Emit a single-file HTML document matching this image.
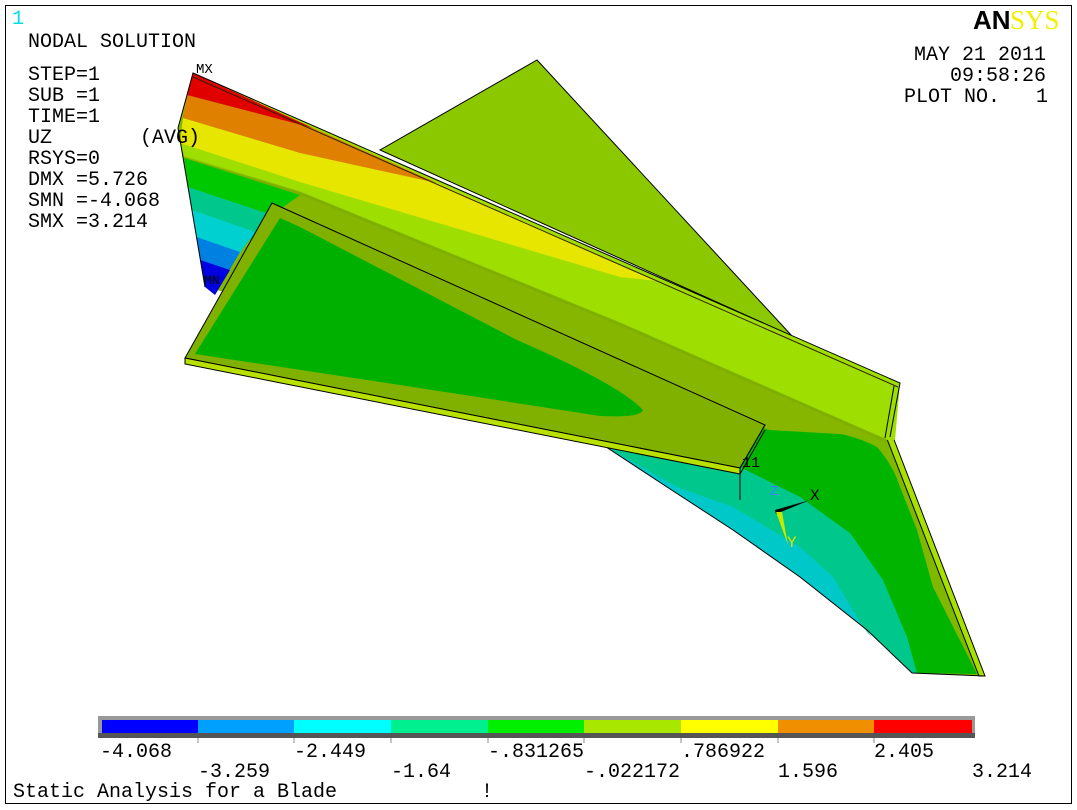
<!DOCTYPE html>
<html><head><meta charset="utf-8"><style>
html,body{margin:0;padding:0;background:#fff;}
svg{display:block;}
text{font-family:"Liberation Mono",monospace;font-size:20px;fill:#000;white-space:pre;}
</style></head><body>
<svg width="1077" height="810" viewBox="0 0 1077 810" xmlns="http://www.w3.org/2000/svg" xml:space="preserve">
<rect x="0" y="0" width="1077" height="810" fill="#fff"/>
<rect x="5.5" y="5.5" width="1066" height="798" fill="none" stroke="#000" stroke-width="1"/>

<!-- back triangle plate -->
<polygon points="537,60 792,336 380,150" fill="#8cc800" stroke="#000" stroke-width="1"/>

<!-- lower fan: olive base -->
<path d="M600,443 L765,428 L893,437 L985,676 L912,673 L867,630 L800,577 L733,530 L667,487 Z" fill="#80b800"/>
<!-- green -->
<path d="M600,443 L765,428 L800,428 Q850,432 877,447 Q893,465 900,487 L917,530 L933,587 L977,674 L912,673 L867,630 L800,577 L733,530 L667,487 Z" fill="#00b400"/>
<!-- teal -->
<path d="M600,443 L742,468 L800,497 L850,533 L883,580 L907,637 L917,673 L912,673 L867,630 L800,577 L733,530 L667,487 Z" fill="#00c88c"/>
<!-- cyan -->
<path d="M605,446 L677,487 L733,507 L800,547 L833,577 L863,627 L872,638 L867,630 L800,577 L733,530 L667,487 Z" fill="#00c8c8"/>
<polygon points="893,437 985,676 979,676 887,439" fill="#a8e000" stroke="#000" stroke-width="1"/>
<polyline points="600,443 667,487 733,530 800,577 867,630 912,673 985,676" fill="none" stroke="#000" stroke-width="1"/>

<!-- main blade base -->
<polygon points="193,73 900,383 890,437 770,430 205,287 178,128" fill="#86b600"/>
<!-- light green band -->
<polygon points="180,143 193,73 900,383 895,440 887,440 620,323 300,192 185,158" fill="#9ede00"/>
<polyline points="185,158 300,193 620,324 887,441" fill="none" stroke="#78a800" stroke-width="3" opacity="0.6"/>
<!-- yellow -->
<polygon points="183,118 437,183 657,281 620,277 300,182 180,143" fill="#e6e600"/>
<!-- orange -->
<polygon points="187,95 313,128 437,183 300,153 183,118" fill="#e08000"/>
<!-- red -->
<polygon points="193,73 313,128 187,95" fill="#e00000"/>
<!-- left lower bands -->
<polygon points="184,158 300,195 272,215 188,187" fill="#00c800"/>
<polygon points="188,187 272,215 250,240 192,210" fill="#00c88c"/>
<polygon points="192,210 255,232 235,260 196.5,237" fill="#00d0d0"/>
<polygon points="196.5,237 240,252 225,278 200,260" fill="#0080e0"/>
<polygon points="200,260 230,270 215,295 205,287" fill="#0000e0"/>
<!-- outline of main blade -->
<polyline points="178,128 193,73 900,383 890,437" fill="none" stroke="#000" stroke-width="1"/>
<line x1="193" y1="77" x2="898" y2="387" stroke="#302000" stroke-width="1"/>
<line x1="178" y1="128" x2="205" y2="287" stroke="#000" stroke-width="1"/>
<line x1="894" y1="386" x2="885" y2="438" stroke="#000" stroke-width="1"/>

<!-- front plate -->
<polygon points="272,203 765,425 740,468 185,358" fill="#80b000" stroke="#000" stroke-width="1"/>
<path d="M280,218 L300,227 L517,340 Q620,385 643,410 Q640,418 600,416 L400,385 L195,354 Z" fill="#00b000"/>
<polygon points="185,358 740,468 740,474 185,364" fill="#b8e000" stroke="#000" stroke-width="1"/>
<line x1="740" y1="468" x2="765" y2="425" stroke="#000"/>
<line x1="740" y1="474" x2="765" y2="430" stroke="#000"/>

<!-- triad -->
<line x1="740" y1="470" x2="740" y2="500" stroke="#000"/>
<text x="742" y="467" style="font-size:15px">11</text>
<polygon points="775,510 810,500 776,514" fill="#000"/>
<polygon points="776,512 782,512 788,545" fill="#c8e800"/>
<text x="810" y="500" style="font-size:16px">X</text>
<text x="787" y="547" style="font-size:16px;fill:#e0e000">Y</text>
<text x="770" y="495" style="font-size:14px;fill:#4080ff">Z</text>
<text x="196" y="73" style="font-size:14px">MX</text>
<text x="204" y="284" style="font-size:13px">MN</text>

<!-- text -->
<text x="12" y="24" style="fill:#00e0e0">1</text>
<text x="28" y="47">NODAL SOLUTION</text>
<text x="28" y="80">STEP=1</text>
<text x="28" y="101">SUB =1</text>
<text x="28" y="122">TIME=1</text>
<text x="28" y="143">UZ</text>
<text x="140" y="143">(AVG)</text>
<text x="28" y="164">RSYS=0</text>
<text x="28" y="185">DMX =5.726</text>
<text x="28" y="206">SMN =-4.068</text>
<text x="28" y="227">SMX =3.214</text>

<text x="973" y="29" style="font-family:'Liberation Sans',sans-serif;font-weight:bold;font-size:26px;fill:#000">AN</text>
<text x="1010" y="29" style="font-family:'Liberation Serif',serif;font-size:27px;fill:#f0f000">SYS</text>
<text x="1046" y="60" text-anchor="end">MAY 21 2011</text>
<text x="1046" y="81" text-anchor="end">09:58:26</text>
<text x="904" y="102">PLOT NO.   1</text>

<!-- colorbar -->
<rect x="98" y="716" width="877" height="22" fill="#999"/>
<rect x="98" y="733" width="877" height="5" fill="#555"/>
<rect x="102" y="720" width="97" height="13" fill="#0000ff"/>
<rect x="198" y="720" width="97" height="13" fill="#00a0ff"/>
<rect x="294" y="720" width="97" height="13" fill="#00ffff"/>
<rect x="391" y="720" width="97" height="13" fill="#00f090"/>
<rect x="488" y="720" width="97" height="13" fill="#00f000"/>
<rect x="584" y="720" width="97" height="13" fill="#a8e800"/>
<rect x="681" y="720" width="97" height="13" fill="#ffff00"/>
<rect x="778" y="720" width="97" height="13" fill="#f09000"/>
<rect x="874" y="720" width="98" height="13" fill="#ff0000"/>
<g stroke="#888" stroke-width="1">
<line x1="198" y1="738" x2="198" y2="743"/><line x1="294" y1="738" x2="294" y2="743"/>
<line x1="391" y1="738" x2="391" y2="743"/><line x1="488" y1="738" x2="488" y2="743"/>
<line x1="584" y1="738" x2="584" y2="743"/><line x1="681" y1="738" x2="681" y2="743"/>
<line x1="778" y1="738" x2="778" y2="743"/><line x1="874" y1="738" x2="874" y2="743"/>
</g>
<text x="100" y="757">-4.068</text>
<text x="294" y="757">-2.449</text>
<text x="488" y="757">-.831265</text>
<text x="681" y="757">.786922</text>
<text x="874" y="757">2.405</text>
<text x="198" y="777">-3.259</text>
<text x="391" y="777">-1.64</text>
<text x="584" y="777">-.022172</text>
<text x="778" y="777">1.596</text>
<text x="972" y="777">3.214</text>
<text x="13" y="797">Static Analysis for a Blade</text>
<text x="481" y="797">!</text>
</svg>
</body></html>
